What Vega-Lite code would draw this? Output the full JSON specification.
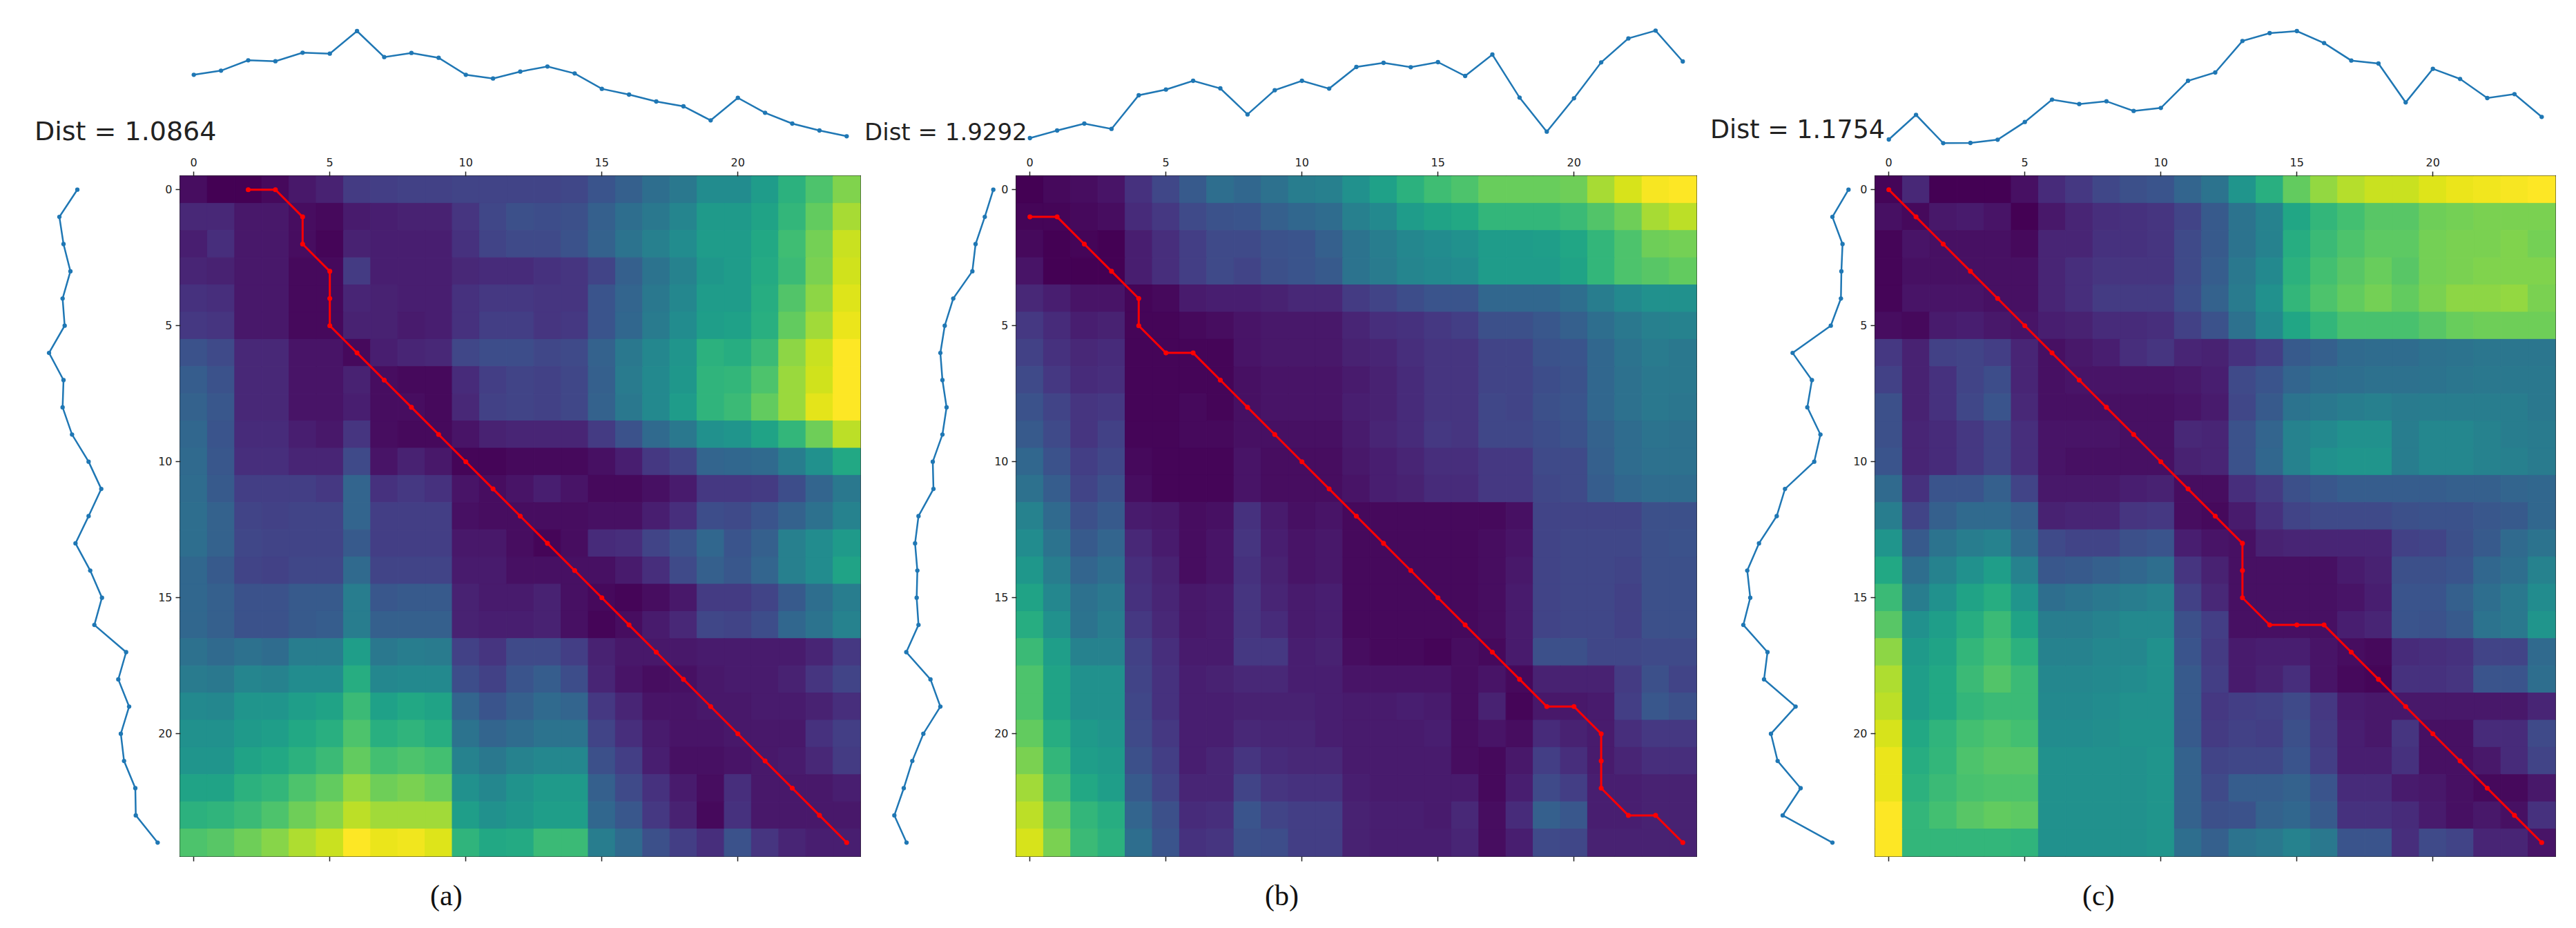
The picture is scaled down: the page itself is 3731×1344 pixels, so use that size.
{"$schema":"https://vega.github.io/schema/vega-lite/v6.json","padding":{"left":41,"top":0,"right":0,"bottom":0},"background":"white","spacing":4,"config":{"view":{"stroke":null},"axis":{"grid":false,"title":null,"labelFont":"DejaVu Sans","labelFontSize":16,"labelColor":"#222","tickColor":"#222","tickSize":7,"tickWidth":1.5,"domain":false,"labelAngle":0,"labelPadding":5}},
"datasets":{
"sa":[{"i":0,"v":305},{"i":1,"v":323},{"i":2,"v":368},{"i":3,"v":364},{"i":4,"v":401},{"i":5,"v":397},{"i":6,"v":495},{"i":7,"v":382},{"i":8,"v":400},{"i":9,"v":379},{"i":10,"v":305},{"i":11,"v":289},{"i":12,"v":319},{"i":13,"v":341},{"i":14,"v":311},{"i":15,"v":244},{"i":16,"v":219},{"i":17,"v":189},{"i":18,"v":168},{"i":19,"v":107},{"i":20,"v":205},{"i":21,"v":140},{"i":22,"v":93},{"i":23,"v":63},{"i":24,"v":38}],
"sb":[{"i":0,"v":30},{"i":1,"v":63},{"i":2,"v":93},{"i":3,"v":70},{"i":4,"v":216},{"i":5,"v":241},{"i":6,"v":279},{"i":7,"v":246},{"i":8,"v":133},{"i":9,"v":238},{"i":10,"v":279},{"i":11,"v":245},{"i":12,"v":339},{"i":13,"v":357},{"i":14,"v":338},{"i":15,"v":360},{"i":16,"v":300},{"i":17,"v":393},{"i":18,"v":206},{"i":19,"v":58},{"i":20,"v":203},{"i":21,"v":359},{"i":22,"v":463},{"i":23,"v":497},{"i":24,"v":363}],
"sc":[{"i":0,"v":24},{"i":1,"v":131},{"i":2,"v":8},{"i":3,"v":9},{"i":4,"v":23},{"i":5,"v":100},{"i":6,"v":197},{"i":7,"v":178},{"i":8,"v":190},{"i":9,"v":148},{"i":10,"v":161},{"i":11,"v":279},{"i":12,"v":315},{"i":13,"v":452},{"i":14,"v":486},{"i":15,"v":495},{"i":16,"v":443},{"i":17,"v":367},{"i":18,"v":354},{"i":19,"v":185},{"i":20,"v":331},{"i":21,"v":287},{"i":22,"v":204},{"i":23,"v":221},{"i":24,"v":122}],
"la":[{"i":0,"v":213},{"i":1,"v":135},{"i":2,"v":153},{"i":3,"v":183},{"i":4,"v":149},{"i":5,"v":158},{"i":6,"v":90},{"i":7,"v":153},{"i":8,"v":149},{"i":9,"v":190},{"i":10,"v":262},{"i":11,"v":317},{"i":12,"v":262},{"i":13,"v":205},{"i":14,"v":269},{"i":15,"v":320},{"i":16,"v":287},{"i":17,"v":425},{"i":18,"v":391},{"i":19,"v":438},{"i":20,"v":402},{"i":21,"v":416},{"i":22,"v":465},{"i":23,"v":467},{"i":24,"v":562}],
"lb":[{"i":0,"v":470},{"i":1,"v":433},{"i":2,"v":393},{"i":3,"v":379},{"i":4,"v":296},{"i":5,"v":259},{"i":6,"v":240},{"i":7,"v":249},{"i":8,"v":267},{"i":9,"v":249},{"i":10,"v":207},{"i":11,"v":210},{"i":12,"v":145},{"i":13,"v":130},{"i":14,"v":140},{"i":15,"v":137},{"i":16,"v":145},{"i":17,"v":92},{"i":18,"v":197},{"i":19,"v":240},{"i":20,"v":166},{"i":21,"v":118},{"i":22,"v":81},{"i":23,"v":40},{"i":24,"v":93}],
"lc":[{"i":0,"v":580},{"i":1,"v":510},{"i":2,"v":554},{"i":3,"v":549},{"i":4,"v":547},{"i":5,"v":503},{"i":6,"v":337},{"i":7,"v":421},{"i":8,"v":401},{"i":9,"v":458},{"i":10,"v":431},{"i":11,"v":304},{"i":12,"v":268},{"i":13,"v":191},{"i":14,"v":140},{"i":15,"v":153},{"i":16,"v":123},{"i":17,"v":228},{"i":18,"v":213},{"i":19,"v":350},{"i":20,"v":243},{"i":21,"v":272},{"i":22,"v":372},{"i":23,"v":294},{"i":24,"v":510}],
"pa":[{"k":0,"x":2,"y":0},{"k":1,"x":3,"y":0},{"k":2,"x":4,"y":1},{"k":3,"x":4,"y":2},{"k":4,"x":5,"y":3},{"k":5,"x":5,"y":4},{"k":6,"x":5,"y":5},{"k":7,"x":6,"y":6},{"k":8,"x":7,"y":7},{"k":9,"x":8,"y":8},{"k":10,"x":9,"y":9},{"k":11,"x":10,"y":10},{"k":12,"x":11,"y":11},{"k":13,"x":12,"y":12},{"k":14,"x":13,"y":13},{"k":15,"x":14,"y":14},{"k":16,"x":15,"y":15},{"k":17,"x":16,"y":16},{"k":18,"x":17,"y":17},{"k":19,"x":18,"y":18},{"k":20,"x":19,"y":19},{"k":21,"x":20,"y":20},{"k":22,"x":21,"y":21},{"k":23,"x":22,"y":22},{"k":24,"x":23,"y":23},{"k":25,"x":24,"y":24}],
"pb":[{"k":0,"x":0,"y":1},{"k":1,"x":1,"y":1},{"k":2,"x":2,"y":2},{"k":3,"x":3,"y":3},{"k":4,"x":4,"y":4},{"k":5,"x":4,"y":5},{"k":6,"x":5,"y":6},{"k":7,"x":6,"y":6},{"k":8,"x":7,"y":7},{"k":9,"x":8,"y":8},{"k":10,"x":9,"y":9},{"k":11,"x":10,"y":10},{"k":12,"x":11,"y":11},{"k":13,"x":12,"y":12},{"k":14,"x":13,"y":13},{"k":15,"x":14,"y":14},{"k":16,"x":15,"y":15},{"k":17,"x":16,"y":16},{"k":18,"x":17,"y":17},{"k":19,"x":18,"y":18},{"k":20,"x":19,"y":19},{"k":21,"x":20,"y":19},{"k":22,"x":21,"y":20},{"k":23,"x":21,"y":21},{"k":24,"x":21,"y":22},{"k":25,"x":22,"y":23},{"k":26,"x":23,"y":23},{"k":27,"x":24,"y":24}],
"pc":[{"k":0,"x":0,"y":0},{"k":1,"x":1,"y":1},{"k":2,"x":2,"y":2},{"k":3,"x":3,"y":3},{"k":4,"x":4,"y":4},{"k":5,"x":5,"y":5},{"k":6,"x":6,"y":6},{"k":7,"x":7,"y":7},{"k":8,"x":8,"y":8},{"k":9,"x":9,"y":9},{"k":10,"x":10,"y":10},{"k":11,"x":11,"y":11},{"k":12,"x":12,"y":12},{"k":13,"x":13,"y":13},{"k":14,"x":13,"y":14},{"k":15,"x":13,"y":15},{"k":16,"x":14,"y":16},{"k":17,"x":15,"y":16},{"k":18,"x":16,"y":16},{"k":19,"x":17,"y":17},{"k":20,"x":18,"y":18},{"k":21,"x":19,"y":19},{"k":22,"x":20,"y":20},{"k":23,"x":21,"y":21},{"k":24,"x":22,"y":22},{"k":25,"x":23,"y":23},{"k":26,"x":24,"y":24}],
"ca":[
{"x":0,"y":0,"v":3},{"x":1,"y":0,"v":0},{"x":2,"y":0,"v":0},{"x":3,"y":0,"v":2},{"x":4,"y":0,"v":6},{"x":5,"y":0,"v":9},{"x":6,"y":0,"v":17},{"x":7,"y":0,"v":18},{"x":8,"y":0,"v":19},{"x":9,"y":0,"v":19},{"x":10,"y":0,"v":20},{"x":11,"y":0,"v":20},{"x":12,"y":0,"v":20},{"x":13,"y":0,"v":20},{"x":14,"y":0,"v":21},{"x":15,"y":0,"v":26},{"x":16,"y":0,"v":30},{"x":17,"y":0,"v":36},{"x":18,"y":0,"v":40},{"x":19,"y":0,"v":48},{"x":20,"y":0,"v":48},{"x":21,"y":0,"v":55},{"x":22,"y":0,"v":64},{"x":23,"y":0,"v":72},{"x":24,"y":0,"v":81},
{"x":0,"y":1,"v":11},{"x":1,"y":1,"v":11},{"x":2,"y":1,"v":6},{"x":3,"y":1,"v":6},{"x":4,"y":1,"v":3},{"x":5,"y":1,"v":2},{"x":6,"y":1,"v":7},{"x":7,"y":1,"v":8},{"x":8,"y":1,"v":9},{"x":9,"y":1,"v":9},{"x":10,"y":1,"v":15},{"x":11,"y":1,"v":21},{"x":12,"y":1,"v":24},{"x":13,"y":1,"v":23},{"x":14,"y":1,"v":24},{"x":15,"y":1,"v":30},{"x":16,"y":1,"v":36},{"x":17,"y":1,"v":40},{"x":18,"y":1,"v":45},{"x":19,"y":1,"v":54},{"x":20,"y":1,"v":54},{"x":21,"y":1,"v":58},{"x":22,"y":1,"v":66},{"x":23,"y":1,"v":76},{"x":24,"y":1,"v":87},
{"x":0,"y":2,"v":8},{"x":1,"y":2,"v":13},{"x":2,"y":2,"v":6},{"x":3,"y":2,"v":6},{"x":4,"y":2,"v":3},{"x":5,"y":2,"v":1},{"x":6,"y":2,"v":9},{"x":7,"y":2,"v":8},{"x":8,"y":2,"v":8},{"x":9,"y":2,"v":8},{"x":10,"y":2,"v":14},{"x":11,"y":2,"v":20},{"x":12,"y":2,"v":22},{"x":13,"y":2,"v":22},{"x":14,"y":2,"v":25},{"x":15,"y":2,"v":31},{"x":16,"y":2,"v":38},{"x":17,"y":2,"v":43},{"x":18,"y":2,"v":48},{"x":19,"y":2,"v":55},{"x":20,"y":2,"v":55},{"x":21,"y":2,"v":60},{"x":22,"y":2,"v":69},{"x":23,"y":2,"v":79},{"x":24,"y":2,"v":92},
{"x":0,"y":3,"v":10},{"x":1,"y":3,"v":9},{"x":2,"y":3,"v":6},{"x":3,"y":3,"v":6},{"x":4,"y":3,"v":2},{"x":5,"y":3,"v":2},{"x":6,"y":3,"v":17},{"x":7,"y":3,"v":8},{"x":8,"y":3,"v":8},{"x":9,"y":3,"v":8},{"x":10,"y":3,"v":11},{"x":11,"y":3,"v":12},{"x":12,"y":3,"v":12},{"x":13,"y":3,"v":14},{"x":14,"y":3,"v":15},{"x":15,"y":3,"v":20},{"x":16,"y":3,"v":30},{"x":17,"y":3,"v":38},{"x":18,"y":3,"v":44},{"x":19,"y":3,"v":53},{"x":20,"y":3,"v":55},{"x":21,"y":3,"v":61},{"x":22,"y":3,"v":68},{"x":23,"y":3,"v":80},{"x":24,"y":3,"v":93},
{"x":0,"y":4,"v":14},{"x":1,"y":4,"v":13},{"x":2,"y":4,"v":6},{"x":3,"y":4,"v":6},{"x":4,"y":4,"v":2},{"x":5,"y":4,"v":2},{"x":6,"y":4,"v":10},{"x":7,"y":4,"v":9},{"x":8,"y":4,"v":8},{"x":9,"y":4,"v":8},{"x":10,"y":4,"v":14},{"x":11,"y":4,"v":16},{"x":12,"y":4,"v":16},{"x":13,"y":4,"v":15},{"x":14,"y":4,"v":15},{"x":15,"y":4,"v":26},{"x":16,"y":4,"v":32},{"x":17,"y":4,"v":40},{"x":18,"y":4,"v":46},{"x":19,"y":4,"v":55},{"x":20,"y":4,"v":55},{"x":21,"y":4,"v":62},{"x":22,"y":4,"v":73},{"x":23,"y":4,"v":83},{"x":24,"y":4,"v":95},
{"x":0,"y":5,"v":16},{"x":1,"y":5,"v":15},{"x":2,"y":5,"v":6},{"x":3,"y":5,"v":6},{"x":4,"y":5,"v":2},{"x":5,"y":5,"v":2},{"x":6,"y":5,"v":9},{"x":7,"y":5,"v":9},{"x":8,"y":5,"v":7},{"x":9,"y":5,"v":8},{"x":10,"y":5,"v":14},{"x":11,"y":5,"v":18},{"x":12,"y":5,"v":18},{"x":13,"y":5,"v":15},{"x":14,"y":5,"v":16},{"x":15,"y":5,"v":26},{"x":16,"y":5,"v":33},{"x":17,"y":5,"v":41},{"x":18,"y":5,"v":48},{"x":19,"y":5,"v":56},{"x":20,"y":5,"v":57},{"x":21,"y":5,"v":63},{"x":22,"y":5,"v":76},{"x":23,"y":5,"v":86},{"x":24,"y":5,"v":97},
{"x":0,"y":6,"v":25},{"x":1,"y":6,"v":22},{"x":2,"y":6,"v":11},{"x":3,"y":6,"v":11},{"x":4,"y":6,"v":5},{"x":5,"y":6,"v":5},{"x":6,"y":6,"v":2},{"x":7,"y":6,"v":8},{"x":8,"y":6,"v":10},{"x":9,"y":6,"v":11},{"x":10,"y":6,"v":21},{"x":11,"y":6,"v":23},{"x":12,"y":6,"v":23},{"x":13,"y":6,"v":21},{"x":14,"y":6,"v":22},{"x":15,"y":6,"v":31},{"x":16,"y":6,"v":40},{"x":17,"y":6,"v":46},{"x":18,"y":6,"v":52},{"x":19,"y":6,"v":64},{"x":20,"y":6,"v":62},{"x":21,"y":6,"v":68},{"x":22,"y":6,"v":83},{"x":23,"y":6,"v":92},{"x":24,"y":6,"v":100},
{"x":0,"y":7,"v":29},{"x":1,"y":7,"v":25},{"x":2,"y":7,"v":11},{"x":3,"y":7,"v":11},{"x":4,"y":7,"v":5},{"x":5,"y":7,"v":5},{"x":6,"y":7,"v":9},{"x":7,"y":7,"v":3},{"x":8,"y":7,"v":2},{"x":9,"y":7,"v":2},{"x":10,"y":7,"v":12},{"x":11,"y":7,"v":18},{"x":12,"y":7,"v":20},{"x":13,"y":7,"v":19},{"x":14,"y":7,"v":21},{"x":15,"y":7,"v":30},{"x":16,"y":7,"v":41},{"x":17,"y":7,"v":47},{"x":18,"y":7,"v":53},{"x":19,"y":7,"v":65},{"x":20,"y":7,"v":66},{"x":21,"y":7,"v":72},{"x":22,"y":7,"v":85},{"x":23,"y":7,"v":93},{"x":24,"y":7,"v":100},
{"x":0,"y":8,"v":31},{"x":1,"y":8,"v":27},{"x":2,"y":8,"v":11},{"x":3,"y":8,"v":11},{"x":4,"y":8,"v":5},{"x":5,"y":8,"v":5},{"x":6,"y":8,"v":8},{"x":7,"y":8,"v":3},{"x":8,"y":8,"v":3},{"x":9,"y":8,"v":2},{"x":10,"y":8,"v":11},{"x":11,"y":8,"v":19},{"x":12,"y":8,"v":20},{"x":13,"y":8,"v":19},{"x":14,"y":8,"v":21},{"x":15,"y":8,"v":31},{"x":16,"y":8,"v":40},{"x":17,"y":8,"v":47},{"x":18,"y":8,"v":55},{"x":19,"y":8,"v":65},{"x":20,"y":8,"v":68},{"x":21,"y":8,"v":76},{"x":22,"y":8,"v":85},{"x":23,"y":8,"v":96},{"x":24,"y":8,"v":100},
{"x":0,"y":9,"v":33},{"x":1,"y":9,"v":26},{"x":2,"y":9,"v":12},{"x":3,"y":9,"v":12},{"x":4,"y":9,"v":8},{"x":5,"y":9,"v":6},{"x":6,"y":9,"v":15},{"x":7,"y":9,"v":3},{"x":8,"y":9,"v":2},{"x":9,"y":9,"v":2},{"x":10,"y":9,"v":5},{"x":11,"y":9,"v":9},{"x":12,"y":9,"v":10},{"x":13,"y":9,"v":10},{"x":14,"y":9,"v":10},{"x":15,"y":9,"v":17},{"x":16,"y":9,"v":25},{"x":17,"y":9,"v":34},{"x":18,"y":9,"v":40},{"x":19,"y":9,"v":50},{"x":20,"y":9,"v":52},{"x":21,"y":9,"v":58},{"x":22,"y":9,"v":66},{"x":23,"y":9,"v":78},{"x":24,"y":9,"v":90},
{"x":0,"y":10,"v":34},{"x":1,"y":10,"v":27},{"x":2,"y":10,"v":13},{"x":3,"y":10,"v":13},{"x":4,"y":10,"v":10},{"x":5,"y":10,"v":10},{"x":6,"y":10,"v":22},{"x":7,"y":10,"v":5},{"x":8,"y":10,"v":9},{"x":9,"y":10,"v":6},{"x":10,"y":10,"v":1},{"x":11,"y":10,"v":1},{"x":12,"y":10,"v":2},{"x":13,"y":10,"v":2},{"x":14,"y":10,"v":2},{"x":15,"y":10,"v":4},{"x":16,"y":10,"v":8},{"x":17,"y":10,"v":16},{"x":18,"y":10,"v":20},{"x":19,"y":10,"v":32},{"x":20,"y":10,"v":33},{"x":21,"y":10,"v":34},{"x":22,"y":10,"v":42},{"x":23,"y":10,"v":50},{"x":24,"y":10,"v":60},
{"x":0,"y":11,"v":35},{"x":1,"y":11,"v":28},{"x":2,"y":11,"v":18},{"x":3,"y":11,"v":18},{"x":4,"y":11,"v":18},{"x":5,"y":11,"v":16},{"x":6,"y":11,"v":32},{"x":7,"y":11,"v":14},{"x":8,"y":11,"v":16},{"x":9,"y":11,"v":14},{"x":10,"y":11,"v":5},{"x":11,"y":11,"v":3},{"x":12,"y":11,"v":5},{"x":13,"y":11,"v":8},{"x":14,"y":11,"v":5},{"x":15,"y":11,"v":2},{"x":16,"y":11,"v":2},{"x":17,"y":11,"v":4},{"x":18,"y":11,"v":7},{"x":19,"y":11,"v":16},{"x":20,"y":11,"v":16},{"x":21,"y":11,"v":17},{"x":22,"y":11,"v":23},{"x":23,"y":11,"v":32},{"x":24,"y":11,"v":40},
{"x":0,"y":12,"v":36},{"x":1,"y":12,"v":31},{"x":2,"y":12,"v":20},{"x":3,"y":12,"v":19},{"x":4,"y":12,"v":20},{"x":5,"y":12,"v":20},{"x":6,"y":12,"v":32},{"x":7,"y":12,"v":18},{"x":8,"y":12,"v":18},{"x":9,"y":12,"v":18},{"x":10,"y":12,"v":4},{"x":11,"y":12,"v":3},{"x":12,"y":12,"v":3},{"x":13,"y":12,"v":3},{"x":14,"y":12,"v":3},{"x":15,"y":12,"v":4},{"x":16,"y":12,"v":4},{"x":17,"y":12,"v":8},{"x":18,"y":12,"v":13},{"x":19,"y":12,"v":23},{"x":20,"y":12,"v":22},{"x":21,"y":12,"v":26},{"x":22,"y":12,"v":31},{"x":23,"y":12,"v":37},{"x":24,"y":12,"v":44},
{"x":0,"y":13,"v":36},{"x":1,"y":13,"v":31},{"x":2,"y":13,"v":21},{"x":3,"y":13,"v":20},{"x":4,"y":13,"v":20},{"x":5,"y":13,"v":20},{"x":6,"y":13,"v":28},{"x":7,"y":13,"v":18},{"x":8,"y":13,"v":18},{"x":9,"y":13,"v":18},{"x":10,"y":13,"v":6},{"x":11,"y":13,"v":6},{"x":12,"y":13,"v":3},{"x":13,"y":13,"v":1},{"x":14,"y":13,"v":3},{"x":15,"y":13,"v":12},{"x":16,"y":13,"v":13},{"x":17,"y":13,"v":20},{"x":18,"y":13,"v":25},{"x":19,"y":13,"v":33},{"x":20,"y":13,"v":26},{"x":21,"y":13,"v":30},{"x":22,"y":13,"v":43},{"x":23,"y":13,"v":48},{"x":24,"y":13,"v":54},
{"x":0,"y":14,"v":33},{"x":1,"y":14,"v":28},{"x":2,"y":14,"v":20},{"x":3,"y":14,"v":19},{"x":4,"y":14,"v":21},{"x":5,"y":14,"v":21},{"x":6,"y":14,"v":34},{"x":7,"y":14,"v":20},{"x":8,"y":14,"v":20},{"x":9,"y":14,"v":20},{"x":10,"y":14,"v":7},{"x":11,"y":14,"v":7},{"x":12,"y":14,"v":4},{"x":13,"y":14,"v":4},{"x":14,"y":14,"v":4},{"x":15,"y":14,"v":4},{"x":16,"y":14,"v":7},{"x":17,"y":14,"v":13},{"x":18,"y":14,"v":22},{"x":19,"y":14,"v":30},{"x":20,"y":14,"v":27},{"x":21,"y":14,"v":32},{"x":22,"y":14,"v":43},{"x":23,"y":14,"v":48},{"x":24,"y":14,"v":58},
{"x":0,"y":15,"v":33},{"x":1,"y":15,"v":30},{"x":2,"y":15,"v":25},{"x":3,"y":15,"v":25},{"x":4,"y":15,"v":28},{"x":5,"y":15,"v":28},{"x":6,"y":15,"v":42},{"x":7,"y":15,"v":27},{"x":8,"y":15,"v":28},{"x":9,"y":15,"v":28},{"x":10,"y":15,"v":9},{"x":11,"y":15,"v":7},{"x":12,"y":15,"v":7},{"x":13,"y":15,"v":9},{"x":14,"y":15,"v":4},{"x":15,"y":15,"v":2},{"x":16,"y":15,"v":1},{"x":17,"y":15,"v":3},{"x":18,"y":15,"v":6},{"x":19,"y":15,"v":17},{"x":20,"y":15,"v":17},{"x":21,"y":15,"v":20},{"x":22,"y":15,"v":28},{"x":23,"y":15,"v":36},{"x":24,"y":15,"v":42},
{"x":0,"y":16,"v":33},{"x":1,"y":16,"v":30},{"x":2,"y":16,"v":25},{"x":3,"y":16,"v":25},{"x":4,"y":16,"v":28},{"x":5,"y":16,"v":29},{"x":6,"y":16,"v":42},{"x":7,"y":16,"v":30},{"x":8,"y":16,"v":30},{"x":9,"y":16,"v":30},{"x":10,"y":16,"v":9},{"x":11,"y":16,"v":8},{"x":12,"y":16,"v":8},{"x":13,"y":16,"v":9},{"x":14,"y":16,"v":4},{"x":15,"y":16,"v":1},{"x":16,"y":16,"v":3},{"x":17,"y":16,"v":7},{"x":18,"y":16,"v":11},{"x":19,"y":16,"v":21},{"x":20,"y":16,"v":20},{"x":21,"y":16,"v":23},{"x":22,"y":16,"v":33},{"x":23,"y":16,"v":38},{"x":24,"y":16,"v":44},
{"x":0,"y":17,"v":37},{"x":1,"y":17,"v":34},{"x":2,"y":17,"v":37},{"x":3,"y":17,"v":35},{"x":4,"y":17,"v":42},{"x":5,"y":17,"v":42},{"x":6,"y":17,"v":56},{"x":7,"y":17,"v":40},{"x":8,"y":17,"v":42},{"x":9,"y":17,"v":41},{"x":10,"y":17,"v":19},{"x":11,"y":17,"v":15},{"x":12,"y":17,"v":22},{"x":13,"y":17,"v":22},{"x":14,"y":17,"v":18},{"x":15,"y":17,"v":9},{"x":16,"y":17,"v":6},{"x":17,"y":17,"v":6},{"x":18,"y":17,"v":6},{"x":19,"y":17,"v":7},{"x":20,"y":17,"v":7},{"x":21,"y":17,"v":7},{"x":22,"y":17,"v":7},{"x":23,"y":17,"v":10},{"x":24,"y":17,"v":16},
{"x":0,"y":18,"v":41},{"x":1,"y":18,"v":40},{"x":2,"y":18,"v":45},{"x":3,"y":18,"v":44},{"x":4,"y":18,"v":48},{"x":5,"y":18,"v":48},{"x":6,"y":18,"v":62},{"x":7,"y":18,"v":46},{"x":8,"y":18,"v":47},{"x":9,"y":18,"v":47},{"x":10,"y":18,"v":23},{"x":11,"y":18,"v":19},{"x":12,"y":18,"v":26},{"x":13,"y":18,"v":29},{"x":14,"y":18,"v":23},{"x":15,"y":18,"v":10},{"x":16,"y":18,"v":5},{"x":17,"y":18,"v":3},{"x":18,"y":18,"v":4},{"x":19,"y":18,"v":6},{"x":20,"y":18,"v":7},{"x":21,"y":18,"v":7},{"x":22,"y":18,"v":9},{"x":23,"y":18,"v":15},{"x":24,"y":18,"v":20},
{"x":0,"y":19,"v":47},{"x":1,"y":19,"v":46},{"x":2,"y":19,"v":52},{"x":3,"y":19,"v":52},{"x":4,"y":19,"v":56},{"x":5,"y":19,"v":58},{"x":6,"y":19,"v":68},{"x":7,"y":19,"v":57},{"x":8,"y":19,"v":60},{"x":9,"y":19,"v":58},{"x":10,"y":19,"v":32},{"x":11,"y":19,"v":26},{"x":12,"y":19,"v":30},{"x":13,"y":19,"v":34},{"x":14,"y":19,"v":32},{"x":15,"y":19,"v":16},{"x":16,"y":19,"v":10},{"x":17,"y":19,"v":5},{"x":18,"y":19,"v":5},{"x":19,"y":19,"v":6},{"x":20,"y":19,"v":6},{"x":21,"y":19,"v":7},{"x":22,"y":19,"v":7},{"x":23,"y":19,"v":9},{"x":24,"y":19,"v":13},
{"x":0,"y":20,"v":50},{"x":1,"y":20,"v":50},{"x":2,"y":20,"v":54},{"x":3,"y":20,"v":56},{"x":4,"y":20,"v":60},{"x":5,"y":20,"v":63},{"x":6,"y":20,"v":72},{"x":7,"y":20,"v":63},{"x":8,"y":20,"v":65},{"x":9,"y":20,"v":62},{"x":10,"y":20,"v":38},{"x":11,"y":20,"v":32},{"x":12,"y":20,"v":35},{"x":13,"y":20,"v":38},{"x":14,"y":20,"v":38},{"x":15,"y":20,"v":20},{"x":16,"y":20,"v":13},{"x":17,"y":20,"v":7},{"x":18,"y":20,"v":5},{"x":19,"y":20,"v":5},{"x":20,"y":20,"v":6},{"x":21,"y":20,"v":6},{"x":22,"y":20,"v":6},{"x":23,"y":20,"v":14},{"x":24,"y":20,"v":18},
{"x":0,"y":21,"v":52},{"x":1,"y":21,"v":52},{"x":2,"y":21,"v":58},{"x":3,"y":21,"v":60},{"x":4,"y":21,"v":64},{"x":5,"y":21,"v":68},{"x":6,"y":21,"v":76},{"x":7,"y":21,"v":70},{"x":8,"y":21,"v":72},{"x":9,"y":21,"v":70},{"x":10,"y":21,"v":44},{"x":11,"y":21,"v":40},{"x":12,"y":21,"v":44},{"x":13,"y":21,"v":46},{"x":14,"y":21,"v":46},{"x":15,"y":21,"v":24},{"x":16,"y":21,"v":18},{"x":17,"y":21,"v":8},{"x":18,"y":21,"v":4},{"x":19,"y":21,"v":4},{"x":20,"y":21,"v":5},{"x":21,"y":21,"v":6},{"x":22,"y":21,"v":7},{"x":23,"y":21,"v":11},{"x":24,"y":21,"v":17},
{"x":0,"y":22,"v":58},{"x":1,"y":22,"v":58},{"x":2,"y":22,"v":64},{"x":3,"y":22,"v":66},{"x":4,"y":22,"v":72},{"x":5,"y":22,"v":76},{"x":6,"y":22,"v":84},{"x":7,"y":22,"v":78},{"x":8,"y":22,"v":80},{"x":9,"y":22,"v":77},{"x":10,"y":22,"v":50},{"x":11,"y":22,"v":46},{"x":12,"y":22,"v":51},{"x":13,"y":22,"v":54},{"x":14,"y":22,"v":54},{"x":15,"y":22,"v":30},{"x":16,"y":22,"v":22},{"x":17,"y":22,"v":14},{"x":18,"y":22,"v":7},{"x":19,"y":22,"v":3},{"x":20,"y":22,"v":13},{"x":21,"y":22,"v":6},{"x":22,"y":22,"v":6},{"x":23,"y":22,"v":6},{"x":24,"y":22,"v":8},
{"x":0,"y":23,"v":64},{"x":1,"y":23,"v":65},{"x":2,"y":23,"v":68},{"x":3,"y":23,"v":72},{"x":4,"y":23,"v":78},{"x":5,"y":23,"v":82},{"x":6,"y":23,"v":90},{"x":7,"y":23,"v":86},{"x":8,"y":23,"v":86},{"x":9,"y":23,"v":86},{"x":10,"y":23,"v":56},{"x":11,"y":23,"v":50},{"x":12,"y":23,"v":53},{"x":13,"y":23,"v":56},{"x":14,"y":23,"v":56},{"x":15,"y":23,"v":33},{"x":16,"y":23,"v":27},{"x":17,"y":23,"v":16},{"x":18,"y":23,"v":9},{"x":19,"y":23,"v":2},{"x":20,"y":23,"v":14},{"x":21,"y":23,"v":6},{"x":22,"y":23,"v":6},{"x":23,"y":23,"v":6},{"x":24,"y":23,"v":6},
{"x":0,"y":24,"v":72},{"x":1,"y":24,"v":74},{"x":2,"y":24,"v":78},{"x":3,"y":24,"v":82},{"x":4,"y":24,"v":88},{"x":5,"y":24,"v":92},{"x":6,"y":24,"v":100},{"x":7,"y":24,"v":97},{"x":8,"y":24,"v":98},{"x":9,"y":24,"v":95},{"x":10,"y":24,"v":65},{"x":11,"y":24,"v":60},{"x":12,"y":24,"v":61},{"x":13,"y":24,"v":68},{"x":14,"y":24,"v":68},{"x":15,"y":24,"v":42},{"x":16,"y":24,"v":34},{"x":17,"y":24,"v":24},{"x":18,"y":24,"v":18},{"x":19,"y":24,"v":13},{"x":20,"y":24,"v":25},{"x":21,"y":24,"v":15},{"x":22,"y":24,"v":10},{"x":23,"y":24,"v":8},{"x":24,"y":24,"v":8}],
"cb":[
{"x":0,"y":0,"v":0},{"x":1,"y":0,"v":2},{"x":2,"y":0,"v":3},{"x":3,"y":0,"v":5},{"x":4,"y":0,"v":14},{"x":5,"y":0,"v":21},{"x":6,"y":0,"v":28},{"x":7,"y":0,"v":36},{"x":8,"y":0,"v":33},{"x":9,"y":0,"v":37},{"x":10,"y":0,"v":42},{"x":11,"y":0,"v":43},{"x":12,"y":0,"v":50},{"x":13,"y":0,"v":57},{"x":14,"y":0,"v":64},{"x":15,"y":0,"v":69},{"x":16,"y":0,"v":72},{"x":17,"y":0,"v":77},{"x":18,"y":0,"v":77},{"x":19,"y":0,"v":77},{"x":20,"y":0,"v":78},{"x":21,"y":0,"v":87},{"x":22,"y":0,"v":94},{"x":23,"y":0,"v":99},{"x":24,"y":0,"v":100},
{"x":0,"y":1,"v":1},{"x":1,"y":1,"v":1},{"x":2,"y":1,"v":2},{"x":3,"y":1,"v":3},{"x":4,"y":1,"v":12},{"x":5,"y":1,"v":16},{"x":6,"y":1,"v":22},{"x":7,"y":1,"v":25},{"x":8,"y":1,"v":26},{"x":9,"y":1,"v":30},{"x":10,"y":1,"v":33},{"x":11,"y":1,"v":35},{"x":12,"y":1,"v":43},{"x":13,"y":1,"v":47},{"x":14,"y":1,"v":55},{"x":15,"y":1,"v":58},{"x":16,"y":1,"v":60},{"x":17,"y":1,"v":66},{"x":18,"y":1,"v":66},{"x":19,"y":1,"v":66},{"x":20,"y":1,"v":68},{"x":21,"y":1,"v":73},{"x":22,"y":1,"v":78},{"x":23,"y":1,"v":87},{"x":24,"y":1,"v":90},
{"x":0,"y":2,"v":2},{"x":1,"y":2,"v":0},{"x":2,"y":2,"v":1},{"x":3,"y":2,"v":0},{"x":4,"y":2,"v":8},{"x":5,"y":2,"v":13},{"x":6,"y":2,"v":18},{"x":7,"y":2,"v":22},{"x":8,"y":2,"v":22},{"x":9,"y":2,"v":25},{"x":10,"y":2,"v":26},{"x":11,"y":2,"v":30},{"x":12,"y":2,"v":38},{"x":13,"y":2,"v":42},{"x":14,"y":2,"v":46},{"x":15,"y":2,"v":48},{"x":16,"y":2,"v":50},{"x":17,"y":2,"v":55},{"x":18,"y":2,"v":55},{"x":19,"y":2,"v":56},{"x":20,"y":2,"v":59},{"x":21,"y":2,"v":66},{"x":22,"y":2,"v":72},{"x":23,"y":2,"v":78},{"x":24,"y":2,"v":79},
{"x":0,"y":3,"v":5},{"x":1,"y":3,"v":0},{"x":2,"y":3,"v":0},{"x":3,"y":3,"v":0},{"x":4,"y":3,"v":8},{"x":5,"y":3,"v":13},{"x":6,"y":3,"v":18},{"x":7,"y":3,"v":22},{"x":8,"y":3,"v":20},{"x":9,"y":3,"v":24},{"x":10,"y":3,"v":26},{"x":11,"y":3,"v":28},{"x":12,"y":3,"v":38},{"x":13,"y":3,"v":41},{"x":14,"y":3,"v":45},{"x":15,"y":3,"v":47},{"x":16,"y":3,"v":48},{"x":17,"y":3,"v":55},{"x":18,"y":3,"v":55},{"x":19,"y":3,"v":55},{"x":20,"y":3,"v":58},{"x":21,"y":3,"v":66},{"x":22,"y":3,"v":72},{"x":23,"y":3,"v":74},{"x":24,"y":3,"v":76},
{"x":0,"y":4,"v":11},{"x":1,"y":4,"v":8},{"x":2,"y":4,"v":5},{"x":3,"y":4,"v":5},{"x":4,"y":4,"v":1},{"x":5,"y":4,"v":2},{"x":6,"y":4,"v":7},{"x":7,"y":4,"v":8},{"x":8,"y":4,"v":8},{"x":9,"y":4,"v":9},{"x":10,"y":4,"v":11},{"x":11,"y":4,"v":11},{"x":12,"y":4,"v":17},{"x":13,"y":4,"v":20},{"x":14,"y":4,"v":23},{"x":15,"y":4,"v":26},{"x":16,"y":4,"v":26},{"x":17,"y":4,"v":33},{"x":18,"y":4,"v":33},{"x":19,"y":4,"v":33},{"x":20,"y":4,"v":36},{"x":21,"y":4,"v":42},{"x":22,"y":4,"v":47},{"x":23,"y":4,"v":50},{"x":24,"y":4,"v":50},
{"x":0,"y":5,"v":16},{"x":1,"y":5,"v":12},{"x":2,"y":5,"v":8},{"x":3,"y":5,"v":9},{"x":4,"y":5,"v":1},{"x":5,"y":5,"v":1},{"x":6,"y":5,"v":2},{"x":7,"y":5,"v":3},{"x":8,"y":5,"v":5},{"x":9,"y":5,"v":6},{"x":10,"y":5,"v":6},{"x":11,"y":5,"v":6},{"x":12,"y":5,"v":10},{"x":13,"y":5,"v":13},{"x":14,"y":5,"v":14},{"x":15,"y":5,"v":16},{"x":16,"y":5,"v":18},{"x":17,"y":5,"v":24},{"x":18,"y":5,"v":24},{"x":19,"y":5,"v":27},{"x":20,"y":5,"v":30},{"x":21,"y":5,"v":36},{"x":22,"y":5,"v":40},{"x":23,"y":5,"v":43},{"x":24,"y":5,"v":44},
{"x":0,"y":6,"v":19},{"x":1,"y":6,"v":14},{"x":2,"y":6,"v":11},{"x":3,"y":6,"v":12},{"x":4,"y":6,"v":1},{"x":5,"y":6,"v":1},{"x":6,"y":6,"v":1},{"x":7,"y":6,"v":1},{"x":8,"y":6,"v":5},{"x":9,"y":6,"v":6},{"x":10,"y":6,"v":6},{"x":11,"y":6,"v":6},{"x":12,"y":6,"v":9},{"x":13,"y":6,"v":10},{"x":14,"y":6,"v":13},{"x":15,"y":6,"v":15},{"x":16,"y":6,"v":15},{"x":17,"y":6,"v":20},{"x":18,"y":6,"v":20},{"x":19,"y":6,"v":25},{"x":20,"y":6,"v":26},{"x":21,"y":6,"v":33},{"x":22,"y":6,"v":38},{"x":23,"y":6,"v":41},{"x":24,"y":6,"v":40},
{"x":0,"y":7,"v":22},{"x":1,"y":7,"v":16},{"x":2,"y":7,"v":12},{"x":3,"y":7,"v":13},{"x":4,"y":7,"v":1},{"x":5,"y":7,"v":1},{"x":6,"y":7,"v":1},{"x":7,"y":7,"v":1},{"x":8,"y":7,"v":4},{"x":9,"y":7,"v":5},{"x":10,"y":7,"v":5},{"x":11,"y":7,"v":5},{"x":12,"y":7,"v":7},{"x":13,"y":7,"v":9},{"x":14,"y":7,"v":12},{"x":15,"y":7,"v":15},{"x":16,"y":7,"v":15},{"x":17,"y":7,"v":20},{"x":18,"y":7,"v":20},{"x":19,"y":7,"v":23},{"x":20,"y":7,"v":25},{"x":21,"y":7,"v":33},{"x":22,"y":7,"v":37},{"x":23,"y":7,"v":40},{"x":24,"y":7,"v":40},
{"x":0,"y":8,"v":25},{"x":1,"y":8,"v":20},{"x":2,"y":8,"v":15},{"x":3,"y":8,"v":16},{"x":4,"y":8,"v":1},{"x":5,"y":8,"v":1},{"x":6,"y":8,"v":2},{"x":7,"y":8,"v":1},{"x":8,"y":8,"v":4},{"x":9,"y":8,"v":5},{"x":10,"y":8,"v":5},{"x":11,"y":8,"v":5},{"x":12,"y":8,"v":8},{"x":13,"y":8,"v":9},{"x":14,"y":8,"v":12},{"x":15,"y":8,"v":15},{"x":16,"y":8,"v":15},{"x":17,"y":8,"v":21},{"x":18,"y":8,"v":20},{"x":19,"y":8,"v":24},{"x":20,"y":8,"v":26},{"x":21,"y":8,"v":33},{"x":22,"y":8,"v":37},{"x":23,"y":8,"v":40},{"x":24,"y":8,"v":39},
{"x":0,"y":9,"v":28},{"x":1,"y":9,"v":22},{"x":2,"y":9,"v":15},{"x":3,"y":9,"v":19},{"x":4,"y":9,"v":1},{"x":5,"y":9,"v":1},{"x":6,"y":9,"v":2},{"x":7,"y":9,"v":2},{"x":8,"y":9,"v":4},{"x":9,"y":9,"v":4},{"x":10,"y":9,"v":4},{"x":11,"y":9,"v":4},{"x":12,"y":9,"v":7},{"x":13,"y":9,"v":10},{"x":14,"y":9,"v":12},{"x":15,"y":9,"v":16},{"x":16,"y":9,"v":15},{"x":17,"y":9,"v":21},{"x":18,"y":9,"v":21},{"x":19,"y":9,"v":23},{"x":20,"y":9,"v":25},{"x":21,"y":9,"v":31},{"x":22,"y":9,"v":35},{"x":23,"y":9,"v":38},{"x":24,"y":9,"v":37},
{"x":0,"y":10,"v":33},{"x":1,"y":10,"v":25},{"x":2,"y":10,"v":18},{"x":3,"y":10,"v":21},{"x":4,"y":10,"v":2},{"x":5,"y":10,"v":1},{"x":6,"y":10,"v":1},{"x":7,"y":10,"v":1},{"x":8,"y":10,"v":5},{"x":9,"y":10,"v":3},{"x":10,"y":10,"v":3},{"x":11,"y":10,"v":3},{"x":12,"y":10,"v":6},{"x":13,"y":10,"v":8},{"x":14,"y":10,"v":10},{"x":15,"y":10,"v":13},{"x":16,"y":10,"v":13},{"x":17,"y":10,"v":16},{"x":18,"y":10,"v":16},{"x":19,"y":10,"v":22},{"x":20,"y":10,"v":22},{"x":21,"y":10,"v":30},{"x":22,"y":10,"v":35},{"x":23,"y":10,"v":37},{"x":24,"y":10,"v":37},
{"x":0,"y":11,"v":37},{"x":1,"y":11,"v":29},{"x":2,"y":11,"v":20},{"x":3,"y":11,"v":24},{"x":4,"y":11,"v":3},{"x":5,"y":11,"v":1},{"x":6,"y":11,"v":1},{"x":7,"y":11,"v":1},{"x":8,"y":11,"v":5},{"x":9,"y":11,"v":3},{"x":10,"y":11,"v":3},{"x":11,"y":11,"v":3},{"x":12,"y":11,"v":5},{"x":13,"y":11,"v":8},{"x":14,"y":11,"v":9},{"x":15,"y":11,"v":12},{"x":16,"y":11,"v":12},{"x":17,"y":11,"v":16},{"x":18,"y":11,"v":16},{"x":19,"y":11,"v":21},{"x":20,"y":11,"v":22},{"x":21,"y":11,"v":29},{"x":22,"y":11,"v":33},{"x":23,"y":11,"v":35},{"x":24,"y":11,"v":35},
{"x":0,"y":12,"v":44},{"x":1,"y":12,"v":34},{"x":2,"y":12,"v":24},{"x":3,"y":12,"v":28},{"x":4,"y":12,"v":7},{"x":5,"y":12,"v":6},{"x":6,"y":12,"v":3},{"x":7,"y":12,"v":4},{"x":8,"y":12,"v":14},{"x":9,"y":12,"v":7},{"x":10,"y":12,"v":4},{"x":11,"y":12,"v":5},{"x":12,"y":12,"v":2},{"x":13,"y":12,"v":2},{"x":14,"y":12,"v":2},{"x":15,"y":12,"v":2},{"x":16,"y":12,"v":2},{"x":17,"y":12,"v":2},{"x":18,"y":12,"v":4},{"x":19,"y":12,"v":20},{"x":20,"y":12,"v":20},{"x":21,"y":12,"v":20},{"x":22,"y":12,"v":20},{"x":23,"y":12,"v":24},{"x":24,"y":12,"v":24},
{"x":0,"y":13,"v":48},{"x":1,"y":13,"v":38},{"x":2,"y":13,"v":28},{"x":3,"y":13,"v":32},{"x":4,"y":13,"v":11},{"x":5,"y":13,"v":7},{"x":6,"y":13,"v":3},{"x":7,"y":13,"v":5},{"x":8,"y":13,"v":15},{"x":9,"y":13,"v":8},{"x":10,"y":13,"v":5},{"x":11,"y":13,"v":6},{"x":12,"y":13,"v":2},{"x":13,"y":13,"v":2},{"x":14,"y":13,"v":2},{"x":15,"y":13,"v":2},{"x":16,"y":13,"v":2},{"x":17,"y":13,"v":3},{"x":18,"y":13,"v":5},{"x":19,"y":13,"v":20},{"x":20,"y":13,"v":21},{"x":21,"y":13,"v":21},{"x":22,"y":13,"v":21},{"x":23,"y":13,"v":24},{"x":24,"y":13,"v":25},
{"x":0,"y":14,"v":53},{"x":1,"y":14,"v":42},{"x":2,"y":14,"v":32},{"x":3,"y":14,"v":36},{"x":4,"y":14,"v":13},{"x":5,"y":14,"v":9},{"x":6,"y":14,"v":3},{"x":7,"y":14,"v":5},{"x":8,"y":14,"v":14},{"x":9,"y":14,"v":9},{"x":10,"y":14,"v":5},{"x":11,"y":14,"v":6},{"x":12,"y":14,"v":2},{"x":13,"y":14,"v":2},{"x":14,"y":14,"v":2},{"x":15,"y":14,"v":2},{"x":16,"y":14,"v":2},{"x":17,"y":14,"v":3},{"x":18,"y":14,"v":6},{"x":19,"y":14,"v":20},{"x":20,"y":14,"v":21},{"x":21,"y":14,"v":21},{"x":22,"y":14,"v":20},{"x":23,"y":14,"v":24},{"x":24,"y":14,"v":24},
{"x":0,"y":15,"v":58},{"x":1,"y":15,"v":46},{"x":2,"y":15,"v":37},{"x":3,"y":15,"v":40},{"x":4,"y":15,"v":14},{"x":5,"y":15,"v":10},{"x":6,"y":15,"v":6},{"x":7,"y":15,"v":7},{"x":8,"y":15,"v":15},{"x":9,"y":15,"v":10},{"x":10,"y":15,"v":7},{"x":11,"y":15,"v":8},{"x":12,"y":15,"v":2},{"x":13,"y":15,"v":2},{"x":14,"y":15,"v":2},{"x":15,"y":15,"v":2},{"x":16,"y":15,"v":2},{"x":17,"y":15,"v":3},{"x":18,"y":15,"v":7},{"x":19,"y":15,"v":20},{"x":20,"y":15,"v":21},{"x":21,"y":15,"v":21},{"x":22,"y":15,"v":19},{"x":23,"y":15,"v":24},{"x":24,"y":15,"v":24},
{"x":0,"y":16,"v":62},{"x":1,"y":16,"v":50},{"x":2,"y":16,"v":38},{"x":3,"y":16,"v":42},{"x":4,"y":16,"v":16},{"x":5,"y":16,"v":11},{"x":6,"y":16,"v":6},{"x":7,"y":16,"v":7},{"x":8,"y":16,"v":15},{"x":9,"y":16,"v":12},{"x":10,"y":16,"v":7},{"x":11,"y":16,"v":8},{"x":12,"y":16,"v":2},{"x":13,"y":16,"v":2},{"x":14,"y":16,"v":2},{"x":15,"y":16,"v":2},{"x":16,"y":16,"v":2},{"x":17,"y":16,"v":3},{"x":18,"y":16,"v":7},{"x":19,"y":16,"v":20},{"x":20,"y":16,"v":21},{"x":21,"y":16,"v":21},{"x":22,"y":16,"v":19},{"x":23,"y":16,"v":24},{"x":24,"y":16,"v":24},
{"x":0,"y":17,"v":68},{"x":1,"y":17,"v":56},{"x":2,"y":17,"v":44},{"x":3,"y":17,"v":44},{"x":4,"y":17,"v":19},{"x":5,"y":17,"v":13},{"x":6,"y":17,"v":7},{"x":7,"y":17,"v":7},{"x":8,"y":17,"v":16},{"x":9,"y":17,"v":16},{"x":10,"y":17,"v":8},{"x":11,"y":17,"v":9},{"x":12,"y":17,"v":3},{"x":13,"y":17,"v":2},{"x":14,"y":17,"v":2},{"x":15,"y":17,"v":1},{"x":16,"y":17,"v":3},{"x":17,"y":17,"v":2},{"x":18,"y":17,"v":7},{"x":19,"y":17,"v":24},{"x":20,"y":17,"v":24},{"x":21,"y":17,"v":21},{"x":22,"y":17,"v":21},{"x":23,"y":17,"v":22},{"x":24,"y":17,"v":22},
{"x":0,"y":18,"v":72},{"x":1,"y":18,"v":58},{"x":2,"y":18,"v":50},{"x":3,"y":18,"v":50},{"x":4,"y":18,"v":20},{"x":5,"y":18,"v":14},{"x":6,"y":18,"v":8},{"x":7,"y":18,"v":9},{"x":8,"y":18,"v":11},{"x":9,"y":18,"v":11},{"x":10,"y":18,"v":8},{"x":11,"y":18,"v":8},{"x":12,"y":18,"v":5},{"x":13,"y":18,"v":5},{"x":14,"y":18,"v":5},{"x":15,"y":18,"v":5},{"x":16,"y":18,"v":3},{"x":17,"y":18,"v":5},{"x":18,"y":18,"v":2},{"x":19,"y":18,"v":9},{"x":20,"y":18,"v":9},{"x":21,"y":18,"v":9},{"x":22,"y":18,"v":17},{"x":23,"y":18,"v":24},{"x":24,"y":18,"v":20},
{"x":0,"y":19,"v":72},{"x":1,"y":19,"v":58},{"x":2,"y":19,"v":50},{"x":3,"y":19,"v":50},{"x":4,"y":19,"v":21},{"x":5,"y":19,"v":14},{"x":6,"y":19,"v":8},{"x":7,"y":19,"v":8},{"x":8,"y":19,"v":9},{"x":9,"y":19,"v":9},{"x":10,"y":19,"v":9},{"x":11,"y":19,"v":8},{"x":12,"y":19,"v":7},{"x":13,"y":19,"v":7},{"x":14,"y":19,"v":8},{"x":15,"y":19,"v":7},{"x":16,"y":19,"v":3},{"x":17,"y":19,"v":9},{"x":18,"y":19,"v":1},{"x":19,"y":19,"v":6},{"x":20,"y":19,"v":6},{"x":21,"y":19,"v":7},{"x":22,"y":19,"v":18},{"x":23,"y":19,"v":27},{"x":24,"y":19,"v":24},
{"x":0,"y":20,"v":76},{"x":1,"y":20,"v":62},{"x":2,"y":20,"v":54},{"x":3,"y":20,"v":52},{"x":4,"y":20,"v":22},{"x":5,"y":20,"v":16},{"x":6,"y":20,"v":8},{"x":7,"y":20,"v":8},{"x":8,"y":20,"v":11},{"x":9,"y":20,"v":10},{"x":10,"y":20,"v":10},{"x":11,"y":20,"v":8},{"x":12,"y":20,"v":7},{"x":13,"y":20,"v":7},{"x":14,"y":20,"v":7},{"x":15,"y":20,"v":8},{"x":16,"y":20,"v":3},{"x":17,"y":20,"v":5},{"x":18,"y":20,"v":3},{"x":19,"y":20,"v":12},{"x":20,"y":20,"v":9},{"x":21,"y":20,"v":7},{"x":22,"y":20,"v":13},{"x":23,"y":20,"v":16},{"x":24,"y":20,"v":16},
{"x":0,"y":21,"v":80},{"x":1,"y":21,"v":66},{"x":2,"y":21,"v":56},{"x":3,"y":21,"v":54},{"x":4,"y":21,"v":24},{"x":5,"y":21,"v":18},{"x":6,"y":21,"v":8},{"x":7,"y":21,"v":10},{"x":8,"y":21,"v":15},{"x":9,"y":21,"v":12},{"x":10,"y":21,"v":11},{"x":11,"y":21,"v":11},{"x":12,"y":21,"v":7},{"x":13,"y":21,"v":7},{"x":14,"y":21,"v":7},{"x":15,"y":21,"v":7},{"x":16,"y":21,"v":3},{"x":17,"y":21,"v":2},{"x":18,"y":21,"v":6},{"x":19,"y":21,"v":18},{"x":20,"y":21,"v":13},{"x":21,"y":21,"v":7},{"x":22,"y":21,"v":10},{"x":23,"y":21,"v":13},{"x":24,"y":21,"v":13},
{"x":0,"y":22,"v":86},{"x":1,"y":22,"v":70},{"x":2,"y":22,"v":60},{"x":3,"y":22,"v":56},{"x":4,"y":22,"v":28},{"x":5,"y":22,"v":20},{"x":6,"y":22,"v":10},{"x":7,"y":22,"v":10},{"x":8,"y":22,"v":20},{"x":9,"y":22,"v":15},{"x":10,"y":22,"v":14},{"x":11,"y":22,"v":14},{"x":12,"y":22,"v":8},{"x":13,"y":22,"v":7},{"x":14,"y":22,"v":7},{"x":15,"y":22,"v":7},{"x":16,"y":22,"v":7},{"x":17,"y":22,"v":2},{"x":18,"y":22,"v":8},{"x":19,"y":22,"v":22},{"x":20,"y":22,"v":18},{"x":21,"y":22,"v":8},{"x":22,"y":22,"v":8},{"x":23,"y":22,"v":9},{"x":24,"y":22,"v":9},
{"x":0,"y":23,"v":90},{"x":1,"y":23,"v":76},{"x":2,"y":23,"v":66},{"x":3,"y":23,"v":62},{"x":4,"y":23,"v":32},{"x":5,"y":23,"v":24},{"x":6,"y":23,"v":12},{"x":7,"y":23,"v":13},{"x":8,"y":23,"v":26},{"x":9,"y":23,"v":20},{"x":10,"y":23,"v":18},{"x":11,"y":23,"v":18},{"x":12,"y":23,"v":9},{"x":13,"y":23,"v":8},{"x":14,"y":23,"v":8},{"x":15,"y":23,"v":7},{"x":16,"y":23,"v":11},{"x":17,"y":23,"v":3},{"x":18,"y":23,"v":12},{"x":19,"y":23,"v":30},{"x":20,"y":23,"v":27},{"x":21,"y":23,"v":8},{"x":22,"y":23,"v":8},{"x":23,"y":23,"v":9},{"x":24,"y":23,"v":9},
{"x":0,"y":24,"v":94},{"x":1,"y":24,"v":80},{"x":2,"y":24,"v":68},{"x":3,"y":24,"v":64},{"x":4,"y":24,"v":36},{"x":5,"y":24,"v":26},{"x":6,"y":24,"v":14},{"x":7,"y":24,"v":15},{"x":8,"y":24,"v":24},{"x":9,"y":24,"v":23},{"x":10,"y":24,"v":18},{"x":11,"y":24,"v":18},{"x":12,"y":24,"v":9},{"x":13,"y":24,"v":8},{"x":14,"y":24,"v":8},{"x":15,"y":24,"v":8},{"x":16,"y":24,"v":10},{"x":17,"y":24,"v":3},{"x":18,"y":24,"v":8},{"x":19,"y":24,"v":22},{"x":20,"y":24,"v":21},{"x":21,"y":24,"v":9},{"x":22,"y":24,"v":9},{"x":23,"y":24,"v":9},{"x":24,"y":24,"v":9}],
"cc":[
{"x":0,"y":0,"v":1},{"x":1,"y":0,"v":11},{"x":2,"y":0,"v":0},{"x":3,"y":0,"v":0},{"x":4,"y":0,"v":0},{"x":5,"y":0,"v":4},{"x":6,"y":0,"v":12},{"x":7,"y":0,"v":16},{"x":8,"y":0,"v":21},{"x":9,"y":0,"v":24},{"x":10,"y":0,"v":26},{"x":11,"y":0,"v":32},{"x":12,"y":0,"v":38},{"x":13,"y":0,"v":52},{"x":14,"y":0,"v":63},{"x":15,"y":0,"v":76},{"x":16,"y":0,"v":84},{"x":17,"y":0,"v":89},{"x":18,"y":0,"v":92},{"x":19,"y":0,"v":92},{"x":20,"y":0,"v":95},{"x":21,"y":0,"v":97},{"x":22,"y":0,"v":98},{"x":23,"y":0,"v":99},{"x":24,"y":0,"v":100},
{"x":0,"y":1,"v":4},{"x":1,"y":1,"v":2},{"x":2,"y":1,"v":6},{"x":3,"y":1,"v":7},{"x":4,"y":1,"v":5},{"x":5,"y":1,"v":0},{"x":6,"y":1,"v":6},{"x":7,"y":1,"v":10},{"x":8,"y":1,"v":13},{"x":9,"y":1,"v":14},{"x":10,"y":1,"v":15},{"x":11,"y":1,"v":20},{"x":12,"y":1,"v":28},{"x":13,"y":1,"v":38},{"x":14,"y":1,"v":44},{"x":15,"y":1,"v":59},{"x":16,"y":1,"v":66},{"x":17,"y":1,"v":70},{"x":18,"y":1,"v":74},{"x":19,"y":1,"v":74},{"x":20,"y":1,"v":78},{"x":21,"y":1,"v":79},{"x":22,"y":1,"v":80},{"x":23,"y":1,"v":80},{"x":24,"y":1,"v":80},
{"x":0,"y":2,"v":1},{"x":1,"y":2,"v":5},{"x":2,"y":2,"v":4},{"x":3,"y":2,"v":4},{"x":4,"y":2,"v":4},{"x":5,"y":2,"v":2},{"x":6,"y":2,"v":10},{"x":7,"y":2,"v":10},{"x":8,"y":2,"v":14},{"x":9,"y":2,"v":14},{"x":10,"y":2,"v":15},{"x":11,"y":2,"v":22},{"x":12,"y":2,"v":28},{"x":13,"y":2,"v":38},{"x":14,"y":2,"v":44},{"x":15,"y":2,"v":62},{"x":16,"y":2,"v":68},{"x":17,"y":2,"v":72},{"x":18,"y":2,"v":75},{"x":19,"y":2,"v":75},{"x":20,"y":2,"v":79},{"x":21,"y":2,"v":80},{"x":22,"y":2,"v":80},{"x":23,"y":2,"v":81},{"x":24,"y":2,"v":79},
{"x":0,"y":3,"v":1},{"x":1,"y":3,"v":4},{"x":2,"y":3,"v":4},{"x":3,"y":3,"v":4},{"x":4,"y":3,"v":4},{"x":5,"y":3,"v":4},{"x":6,"y":3,"v":10},{"x":7,"y":3,"v":13},{"x":8,"y":3,"v":15},{"x":9,"y":3,"v":15},{"x":10,"y":3,"v":15},{"x":11,"y":3,"v":22},{"x":12,"y":3,"v":29},{"x":13,"y":3,"v":40},{"x":14,"y":3,"v":47},{"x":15,"y":3,"v":64},{"x":16,"y":3,"v":70},{"x":17,"y":3,"v":74},{"x":18,"y":3,"v":77},{"x":19,"y":3,"v":74},{"x":20,"y":3,"v":79},{"x":21,"y":3,"v":80},{"x":22,"y":3,"v":81},{"x":23,"y":3,"v":81},{"x":24,"y":3,"v":81},
{"x":0,"y":4,"v":1},{"x":1,"y":4,"v":5},{"x":2,"y":4,"v":5},{"x":3,"y":4,"v":5},{"x":4,"y":4,"v":4},{"x":5,"y":4,"v":4},{"x":6,"y":4,"v":10},{"x":7,"y":4,"v":13},{"x":8,"y":4,"v":17},{"x":9,"y":4,"v":17},{"x":10,"y":4,"v":17},{"x":11,"y":4,"v":23},{"x":12,"y":4,"v":31},{"x":13,"y":4,"v":41},{"x":14,"y":4,"v":50},{"x":15,"y":4,"v":66},{"x":16,"y":4,"v":72},{"x":17,"y":4,"v":76},{"x":18,"y":4,"v":79},{"x":19,"y":4,"v":76},{"x":20,"y":4,"v":80},{"x":21,"y":4,"v":83},{"x":22,"y":4,"v":83},{"x":23,"y":4,"v":84},{"x":24,"y":4,"v":80},
{"x":0,"y":5,"v":3},{"x":1,"y":5,"v":2},{"x":2,"y":5,"v":7},{"x":3,"y":5,"v":8},{"x":4,"y":5,"v":6},{"x":5,"y":5,"v":5},{"x":6,"y":5,"v":8},{"x":7,"y":5,"v":9},{"x":8,"y":5,"v":12},{"x":9,"y":5,"v":12},{"x":10,"y":5,"v":13},{"x":11,"y":5,"v":19},{"x":12,"y":5,"v":25},{"x":13,"y":5,"v":37},{"x":14,"y":5,"v":47},{"x":15,"y":5,"v":59},{"x":16,"y":5,"v":66},{"x":17,"y":5,"v":71},{"x":18,"y":5,"v":71},{"x":19,"y":5,"v":71},{"x":20,"y":5,"v":74},{"x":21,"y":5,"v":77},{"x":22,"y":5,"v":78},{"x":23,"y":5,"v":78},{"x":24,"y":5,"v":78},
{"x":0,"y":6,"v":16},{"x":1,"y":6,"v":9},{"x":2,"y":6,"v":19},{"x":3,"y":6,"v":20},{"x":4,"y":6,"v":18},{"x":5,"y":6,"v":10},{"x":6,"y":6,"v":4},{"x":7,"y":6,"v":6},{"x":8,"y":6,"v":8},{"x":9,"y":6,"v":13},{"x":10,"y":6,"v":15},{"x":11,"y":6,"v":10},{"x":12,"y":6,"v":9},{"x":13,"y":6,"v":14},{"x":14,"y":6,"v":18},{"x":15,"y":6,"v":28},{"x":16,"y":6,"v":30},{"x":17,"y":6,"v":34},{"x":18,"y":6,"v":35},{"x":19,"y":6,"v":35},{"x":20,"y":6,"v":37},{"x":21,"y":6,"v":38},{"x":22,"y":6,"v":39},{"x":23,"y":6,"v":39},{"x":24,"y":6,"v":39},
{"x":0,"y":7,"v":19},{"x":1,"y":7,"v":9},{"x":2,"y":7,"v":14},{"x":3,"y":7,"v":20},{"x":4,"y":7,"v":23},{"x":5,"y":7,"v":10},{"x":6,"y":7,"v":4},{"x":7,"y":7,"v":5},{"x":8,"y":7,"v":5},{"x":9,"y":7,"v":5},{"x":10,"y":7,"v":5},{"x":11,"y":7,"v":6},{"x":12,"y":7,"v":8},{"x":13,"y":7,"v":22},{"x":14,"y":7,"v":26},{"x":15,"y":7,"v":32},{"x":16,"y":7,"v":35},{"x":17,"y":7,"v":36},{"x":18,"y":7,"v":37},{"x":19,"y":7,"v":37},{"x":20,"y":7,"v":38},{"x":21,"y":7,"v":39},{"x":22,"y":7,"v":40},{"x":23,"y":7,"v":40},{"x":24,"y":7,"v":40},
{"x":0,"y":8,"v":24},{"x":1,"y":8,"v":9},{"x":2,"y":8,"v":14},{"x":3,"y":8,"v":21},{"x":4,"y":8,"v":26},{"x":5,"y":8,"v":11},{"x":6,"y":8,"v":4},{"x":7,"y":8,"v":4},{"x":8,"y":8,"v":4},{"x":9,"y":8,"v":4},{"x":10,"y":8,"v":4},{"x":11,"y":8,"v":5},{"x":12,"y":8,"v":7},{"x":13,"y":8,"v":21},{"x":14,"y":8,"v":28},{"x":15,"y":8,"v":38},{"x":16,"y":8,"v":40},{"x":17,"y":8,"v":42},{"x":18,"y":8,"v":43},{"x":19,"y":8,"v":41},{"x":20,"y":8,"v":42},{"x":21,"y":8,"v":42},{"x":22,"y":8,"v":42},{"x":23,"y":8,"v":42},{"x":24,"y":8,"v":40},
{"x":0,"y":9,"v":24},{"x":1,"y":9,"v":10},{"x":2,"y":9,"v":12},{"x":3,"y":9,"v":16},{"x":4,"y":9,"v":20},{"x":5,"y":9,"v":13},{"x":6,"y":9,"v":5},{"x":7,"y":9,"v":5},{"x":8,"y":9,"v":5},{"x":9,"y":9,"v":4},{"x":10,"y":9,"v":4},{"x":11,"y":9,"v":11},{"x":12,"y":9,"v":10},{"x":13,"y":9,"v":25},{"x":14,"y":9,"v":32},{"x":15,"y":9,"v":44},{"x":16,"y":9,"v":47},{"x":17,"y":9,"v":50},{"x":18,"y":9,"v":50},{"x":19,"y":9,"v":42},{"x":20,"y":9,"v":46},{"x":21,"y":9,"v":46},{"x":22,"y":9,"v":44},{"x":23,"y":9,"v":42},{"x":24,"y":9,"v":41},
{"x":0,"y":10,"v":26},{"x":1,"y":10,"v":10},{"x":2,"y":10,"v":12},{"x":3,"y":10,"v":16},{"x":4,"y":10,"v":20},{"x":5,"y":10,"v":13},{"x":6,"y":10,"v":5},{"x":7,"y":10,"v":4},{"x":8,"y":10,"v":4},{"x":9,"y":10,"v":4},{"x":10,"y":10,"v":4},{"x":11,"y":10,"v":9},{"x":12,"y":10,"v":10},{"x":13,"y":10,"v":25},{"x":14,"y":10,"v":33},{"x":15,"y":10,"v":44},{"x":16,"y":10,"v":50},{"x":17,"y":10,"v":52},{"x":18,"y":10,"v":52},{"x":19,"y":10,"v":42},{"x":20,"y":10,"v":46},{"x":21,"y":10,"v":46},{"x":22,"y":10,"v":44},{"x":23,"y":10,"v":43},{"x":24,"y":10,"v":41},
{"x":0,"y":11,"v":34},{"x":1,"y":11,"v":14},{"x":2,"y":11,"v":26},{"x":3,"y":11,"v":26},{"x":4,"y":11,"v":30},{"x":5,"y":11,"v":20},{"x":6,"y":11,"v":6},{"x":7,"y":11,"v":6},{"x":8,"y":11,"v":6},{"x":9,"y":11,"v":8},{"x":10,"y":11,"v":9},{"x":11,"y":11,"v":3},{"x":12,"y":11,"v":3},{"x":13,"y":11,"v":13},{"x":14,"y":11,"v":17},{"x":15,"y":11,"v":24},{"x":16,"y":11,"v":27},{"x":17,"y":11,"v":29},{"x":18,"y":11,"v":29},{"x":19,"y":11,"v":29},{"x":20,"y":11,"v":29},{"x":21,"y":11,"v":30},{"x":22,"y":11,"v":30},{"x":23,"y":11,"v":32},{"x":24,"y":11,"v":33},
{"x":0,"y":12,"v":42},{"x":1,"y":12,"v":20},{"x":2,"y":12,"v":30},{"x":3,"y":12,"v":34},{"x":4,"y":12,"v":34},{"x":5,"y":12,"v":30},{"x":6,"y":12,"v":9},{"x":7,"y":12,"v":10},{"x":8,"y":12,"v":10},{"x":9,"y":12,"v":15},{"x":10,"y":12,"v":16},{"x":11,"y":12,"v":3},{"x":12,"y":12,"v":2},{"x":13,"y":12,"v":7},{"x":14,"y":12,"v":14},{"x":15,"y":12,"v":20},{"x":16,"y":12,"v":22},{"x":17,"y":12,"v":22},{"x":18,"y":12,"v":22},{"x":19,"y":12,"v":24},{"x":20,"y":12,"v":25},{"x":21,"y":12,"v":25},{"x":22,"y":12,"v":27},{"x":23,"y":12,"v":28},{"x":24,"y":12,"v":33},
{"x":0,"y":13,"v":52},{"x":1,"y":13,"v":28},{"x":2,"y":13,"v":38},{"x":3,"y":13,"v":42},{"x":4,"y":13,"v":44},{"x":5,"y":13,"v":34},{"x":6,"y":13,"v":22},{"x":7,"y":13,"v":20},{"x":8,"y":13,"v":20},{"x":9,"y":13,"v":24},{"x":10,"y":13,"v":26},{"x":11,"y":13,"v":8},{"x":12,"y":13,"v":5},{"x":13,"y":13,"v":4},{"x":14,"y":13,"v":9},{"x":15,"y":13,"v":10},{"x":16,"y":13,"v":10},{"x":17,"y":13,"v":10},{"x":18,"y":13,"v":10},{"x":19,"y":13,"v":19},{"x":20,"y":13,"v":20},{"x":21,"y":13,"v":24},{"x":22,"y":13,"v":28},{"x":23,"y":13,"v":34},{"x":24,"y":13,"v":38},
{"x":0,"y":14,"v":60},{"x":1,"y":14,"v":36},{"x":2,"y":14,"v":44},{"x":3,"y":14,"v":50},{"x":4,"y":14,"v":56},{"x":5,"y":14,"v":44},{"x":6,"y":14,"v":27},{"x":7,"y":14,"v":28},{"x":8,"y":14,"v":30},{"x":9,"y":14,"v":33},{"x":10,"y":14,"v":36},{"x":11,"y":14,"v":15},{"x":12,"y":14,"v":9},{"x":13,"y":14,"v":4},{"x":14,"y":14,"v":4},{"x":15,"y":14,"v":4},{"x":16,"y":14,"v":4},{"x":17,"y":14,"v":7},{"x":18,"y":14,"v":9},{"x":19,"y":14,"v":24},{"x":20,"y":14,"v":24},{"x":21,"y":14,"v":26},{"x":22,"y":14,"v":33},{"x":23,"y":14,"v":36},{"x":24,"y":14,"v":44},
{"x":0,"y":15,"v":68},{"x":1,"y":15,"v":42},{"x":2,"y":15,"v":50},{"x":3,"y":15,"v":58},{"x":4,"y":15,"v":62},{"x":5,"y":15,"v":52},{"x":6,"y":15,"v":36},{"x":7,"y":15,"v":38},{"x":8,"y":15,"v":40},{"x":9,"y":15,"v":42},{"x":10,"y":15,"v":44},{"x":11,"y":15,"v":19},{"x":12,"y":15,"v":11},{"x":13,"y":15,"v":4},{"x":14,"y":15,"v":4},{"x":15,"y":15,"v":4},{"x":16,"y":15,"v":4},{"x":17,"y":15,"v":5},{"x":18,"y":15,"v":8},{"x":19,"y":15,"v":26},{"x":20,"y":15,"v":26},{"x":21,"y":15,"v":30},{"x":22,"y":15,"v":36},{"x":23,"y":15,"v":40},{"x":24,"y":15,"v":48},
{"x":0,"y":16,"v":74},{"x":1,"y":16,"v":50},{"x":2,"y":16,"v":56},{"x":3,"y":16,"v":62},{"x":4,"y":16,"v":68},{"x":5,"y":16,"v":58},{"x":6,"y":16,"v":42},{"x":7,"y":16,"v":42},{"x":8,"y":16,"v":44},{"x":9,"y":16,"v":47},{"x":10,"y":16,"v":47},{"x":11,"y":16,"v":24},{"x":12,"y":16,"v":18},{"x":13,"y":16,"v":4},{"x":14,"y":16,"v":4},{"x":15,"y":16,"v":4},{"x":16,"y":16,"v":4},{"x":17,"y":16,"v":8},{"x":18,"y":16,"v":10},{"x":19,"y":16,"v":26},{"x":20,"y":16,"v":25},{"x":21,"y":16,"v":28},{"x":22,"y":16,"v":38},{"x":23,"y":16,"v":40},{"x":24,"y":16,"v":52},
{"x":0,"y":17,"v":83},{"x":1,"y":17,"v":54},{"x":2,"y":17,"v":58},{"x":3,"y":17,"v":66},{"x":4,"y":17,"v":70},{"x":5,"y":17,"v":64},{"x":6,"y":17,"v":44},{"x":7,"y":17,"v":44},{"x":8,"y":17,"v":46},{"x":9,"y":17,"v":46},{"x":10,"y":17,"v":50},{"x":11,"y":17,"v":26},{"x":12,"y":17,"v":17},{"x":13,"y":17,"v":7},{"x":14,"y":17,"v":8},{"x":15,"y":17,"v":8},{"x":16,"y":17,"v":5},{"x":17,"y":17,"v":3},{"x":18,"y":17,"v":2},{"x":19,"y":17,"v":12},{"x":20,"y":17,"v":13},{"x":21,"y":17,"v":14},{"x":22,"y":17,"v":20},{"x":23,"y":17,"v":20},{"x":24,"y":17,"v":34},
{"x":0,"y":18,"v":88},{"x":1,"y":18,"v":56},{"x":2,"y":18,"v":60},{"x":3,"y":18,"v":68},{"x":4,"y":18,"v":73},{"x":5,"y":18,"v":68},{"x":6,"y":18,"v":46},{"x":7,"y":18,"v":46},{"x":8,"y":18,"v":47},{"x":9,"y":18,"v":48},{"x":10,"y":18,"v":50},{"x":11,"y":18,"v":28},{"x":12,"y":18,"v":18},{"x":13,"y":18,"v":7},{"x":14,"y":18,"v":9},{"x":15,"y":18,"v":13},{"x":16,"y":18,"v":5},{"x":17,"y":18,"v":2},{"x":18,"y":18,"v":1},{"x":19,"y":18,"v":14},{"x":20,"y":18,"v":14},{"x":21,"y":18,"v":15},{"x":22,"y":18,"v":26},{"x":23,"y":18,"v":26},{"x":24,"y":18,"v":36},
{"x":0,"y":19,"v":90},{"x":1,"y":19,"v":56},{"x":2,"y":19,"v":60},{"x":3,"y":19,"v":66},{"x":4,"y":19,"v":68},{"x":5,"y":19,"v":68},{"x":6,"y":19,"v":47},{"x":7,"y":19,"v":47},{"x":8,"y":19,"v":48},{"x":9,"y":19,"v":50},{"x":10,"y":19,"v":50},{"x":11,"y":19,"v":28},{"x":12,"y":19,"v":16},{"x":13,"y":19,"v":18},{"x":14,"y":19,"v":19},{"x":15,"y":19,"v":22},{"x":16,"y":19,"v":16},{"x":17,"y":19,"v":7},{"x":18,"y":19,"v":6},{"x":19,"y":19,"v":6},{"x":20,"y":19,"v":6},{"x":21,"y":19,"v":6},{"x":22,"y":19,"v":6},{"x":23,"y":19,"v":6},{"x":24,"y":19,"v":10},
{"x":0,"y":20,"v":94},{"x":1,"y":20,"v":60},{"x":2,"y":20,"v":65},{"x":3,"y":20,"v":70},{"x":4,"y":20,"v":72},{"x":5,"y":20,"v":70},{"x":6,"y":20,"v":48},{"x":7,"y":20,"v":48},{"x":8,"y":20,"v":49},{"x":9,"y":20,"v":51},{"x":10,"y":20,"v":51},{"x":11,"y":20,"v":28},{"x":12,"y":20,"v":17},{"x":13,"y":20,"v":19},{"x":14,"y":20,"v":18},{"x":15,"y":20,"v":24},{"x":16,"y":20,"v":17},{"x":17,"y":20,"v":8},{"x":18,"y":20,"v":6},{"x":19,"y":20,"v":15},{"x":20,"y":20,"v":4},{"x":21,"y":20,"v":4},{"x":22,"y":20,"v":12},{"x":23,"y":20,"v":12},{"x":24,"y":20,"v":22},
{"x":0,"y":21,"v":97},{"x":1,"y":21,"v":62},{"x":2,"y":21,"v":66},{"x":3,"y":21,"v":72},{"x":4,"y":21,"v":74},{"x":5,"y":21,"v":74},{"x":6,"y":21,"v":50},{"x":7,"y":21,"v":50},{"x":8,"y":21,"v":50},{"x":9,"y":21,"v":50},{"x":10,"y":21,"v":52},{"x":11,"y":21,"v":31},{"x":12,"y":21,"v":20},{"x":13,"y":21,"v":21},{"x":14,"y":21,"v":21},{"x":15,"y":21,"v":26},{"x":16,"y":21,"v":18},{"x":17,"y":21,"v":8},{"x":18,"y":21,"v":8},{"x":19,"y":21,"v":14},{"x":20,"y":21,"v":4},{"x":21,"y":21,"v":4},{"x":22,"y":21,"v":6},{"x":23,"y":21,"v":12},{"x":24,"y":21,"v":20},
{"x":0,"y":22,"v":97},{"x":1,"y":22,"v":64},{"x":2,"y":22,"v":68},{"x":3,"y":22,"v":71},{"x":4,"y":22,"v":72},{"x":5,"y":22,"v":72},{"x":6,"y":22,"v":50},{"x":7,"y":22,"v":50},{"x":8,"y":22,"v":50},{"x":9,"y":22,"v":50},{"x":10,"y":22,"v":52},{"x":11,"y":22,"v":31},{"x":12,"y":22,"v":22},{"x":13,"y":22,"v":29},{"x":14,"y":22,"v":29},{"x":15,"y":22,"v":31},{"x":16,"y":22,"v":26},{"x":17,"y":22,"v":12},{"x":18,"y":22,"v":12},{"x":19,"y":22,"v":7},{"x":20,"y":22,"v":6},{"x":21,"y":22,"v":4},{"x":22,"y":22,"v":2},{"x":23,"y":22,"v":2},{"x":24,"y":22,"v":6},
{"x":0,"y":23,"v":100},{"x":1,"y":23,"v":66},{"x":2,"y":23,"v":70},{"x":3,"y":23,"v":74},{"x":4,"y":23,"v":76},{"x":5,"y":23,"v":75},{"x":6,"y":23,"v":50},{"x":7,"y":23,"v":50},{"x":8,"y":23,"v":50},{"x":9,"y":23,"v":50},{"x":10,"y":23,"v":52},{"x":11,"y":23,"v":31},{"x":12,"y":23,"v":24},{"x":13,"y":23,"v":25},{"x":14,"y":23,"v":31},{"x":15,"y":23,"v":33},{"x":16,"y":23,"v":28},{"x":17,"y":23,"v":14},{"x":18,"y":23,"v":14},{"x":19,"y":23,"v":12},{"x":20,"y":23,"v":7},{"x":21,"y":23,"v":4},{"x":22,"y":23,"v":6},{"x":23,"y":23,"v":4},{"x":24,"y":23,"v":14},
{"x":0,"y":24,"v":100},{"x":1,"y":24,"v":66},{"x":2,"y":24,"v":66},{"x":3,"y":24,"v":66},{"x":4,"y":24,"v":66},{"x":5,"y":24,"v":65},{"x":6,"y":24,"v":50},{"x":7,"y":24,"v":50},{"x":8,"y":24,"v":50},{"x":9,"y":24,"v":50},{"x":10,"y":24,"v":52},{"x":11,"y":24,"v":36},{"x":12,"y":24,"v":30},{"x":13,"y":24,"v":38},{"x":14,"y":24,"v":40},{"x":15,"y":24,"v":44},{"x":16,"y":24,"v":40},{"x":17,"y":24,"v":26},{"x":18,"y":24,"v":26},{"x":19,"y":24,"v":13},{"x":20,"y":24,"v":22},{"x":21,"y":24,"v":20},{"x":22,"y":24,"v":10},{"x":23,"y":24,"v":10},{"x":24,"y":24,"v":5}]
},
"hconcat":[
{"bounds":"flush","columns":2,"spacing":{"row":45,"column":0},"concat":[
{"width":220,"height":210,"data":{"values":[{"t":"Dist = 1.0864","x":27,"y":54}]},"mark":{"type":"text","font":"DejaVu Sans","fontSize":38,"align":"left","baseline":"middle","color":"#222"},"encoding":{"text":{"field":"t"},"x":{"field":"x","type":"quantitative","axis":null,"scale":{"domain":[0,660]}},"y":{"field":"y","type":"quantitative","axis":null,"scale":{"domain":[0,630]}}}},
{"width":985,"height":210,"data":{"name":"sa"},"mark":{"type":"line","color":"#1f77b4","strokeWidth":2.5,"point":{"color":"#1f77b4","size":40}},"encoding":{"x":{"field":"i","type":"ordinal","axis":null,"scale":{"domain":[0,1,2,3,4,5,6,7,8,9,10,11,12,13,14,15,16,17,18,19,20,21,22,23,24],"paddingInner":0,"paddingOuter":0}},"y":{"field":"v","type":"quantitative","axis":null,"scale":{"domain":[0,630]}}}},
{"width":220,"height":985,"data":{"name":"la"},"mark":{"type":"line","color":"#1f77b4","strokeWidth":2.5,"orient":"vertical","point":{"color":"#1f77b4","size":40}},"encoding":{"order":{"field":"i"},"y":{"field":"i","type":"ordinal","axis":null,"scale":{"domain":[0,1,2,3,4,5,6,7,8,9,10,11,12,13,14,15,16,17,18,19,20,21,22,23,24],"paddingInner":0,"paddingOuter":0}},"x":{"field":"v","type":"quantitative","axis":null,"scale":{"domain":[0,660]}}}},
{"width":985,"height":985,"view":{"stroke":"#222","strokeWidth":2},"title":{"text":"(a)","orient":"bottom","anchor":"start","frame":"group","font":"Liberation Serif","fontSize":42,"fontWeight":"normal","color":"#111","dx":362,"offset":30},"resolve":{"axis":{"x":"independent"}},"layer":[
{"data":{"name":"ca"},"mark":{"type":"rect","strokeWidth":1},"encoding":{"x":{"field":"x","type":"ordinal","axis":{"orient":"top","values":[0,5,10,15,20]},"scale":{"domain":[0,1,2,3,4,5,6,7,8,9,10,11,12,13,14,15,16,17,18,19,20,21,22,23,24],"paddingInner":0,"paddingOuter":0}},"y":{"field":"y","type":"ordinal","axis":{"orient":"left","values":[0,5,10,15,20]},"scale":{"domain":[0,1,2,3,4,5,6,7,8,9,10,11,12,13,14,15,16,17,18,19,20,21,22,23,24],"paddingInner":0,"paddingOuter":0}},"color":{"field":"v","type":"quantitative","legend":null,"scale":{"scheme":"viridis","domain":[0,100]}},"stroke":{"field":"v","type":"quantitative","legend":null,"scale":{"scheme":"viridis","domain":[0,100]}}}},
{"data":{"name":"pa"},"mark":{"type":"line","color":"#f00","strokeWidth":3,"point":{"color":"#f00","size":50}},"encoding":{"order":{"field":"k"},"x":{"field":"x","type":"ordinal","axis":{"orient":"bottom","labels":false,"values":[0,5,10,15,20]}},"y":{"field":"y","type":"ordinal"}}}
]}
]},
{"bounds":"flush","columns":2,"spacing":{"row":45,"column":0},"concat":[
{"width":220,"height":210,"data":{"values":[{"t":"Dist = 1.9292","x":-90,"y":52}]},"mark":{"type":"text","font":"DejaVu Sans","fontSize":34,"align":"left","baseline":"middle","color":"#222"},"encoding":{"text":{"field":"t"},"x":{"field":"x","type":"quantitative","axis":null,"scale":{"domain":[-90,570]}},"y":{"field":"y","type":"quantitative","axis":null,"scale":{"domain":[0,630]}}}},
{"width":985,"height":210,"data":{"name":"sb"},"mark":{"type":"line","color":"#1f77b4","strokeWidth":2.5,"point":{"color":"#1f77b4","size":40}},"encoding":{"x":{"field":"i","type":"ordinal","axis":null,"scale":{"domain":[0,1,2,3,4,5,6,7,8,9,10,11,12,13,14,15,16,17,18,19,20,21,22,23,24],"paddingInner":0,"paddingOuter":0}},"y":{"field":"v","type":"quantitative","axis":null,"scale":{"domain":[0,630]}}}},
{"width":220,"height":985,"data":{"name":"lb"},"mark":{"type":"line","color":"#1f77b4","strokeWidth":2.5,"orient":"vertical","point":{"color":"#1f77b4","size":40}},"encoding":{"order":{"field":"i"},"y":{"field":"i","type":"ordinal","axis":null,"scale":{"domain":[0,1,2,3,4,5,6,7,8,9,10,11,12,13,14,15,16,17,18,19,20,21,22,23,24],"paddingInner":0,"paddingOuter":0}},"x":{"field":"v","type":"quantitative","axis":null,"scale":{"domain":[-90,570]}}}},
{"width":985,"height":985,"view":{"stroke":"#222","strokeWidth":2},"title":{"text":"(b)","orient":"bottom","anchor":"start","frame":"group","font":"Liberation Serif","fontSize":42,"fontWeight":"normal","color":"#111","dx":360,"offset":30},"resolve":{"axis":{"x":"independent"}},"layer":[
{"data":{"name":"cb"},"mark":{"type":"rect","strokeWidth":1},"encoding":{"x":{"field":"x","type":"ordinal","axis":{"orient":"top","values":[0,5,10,15,20]},"scale":{"domain":[0,1,2,3,4,5,6,7,8,9,10,11,12,13,14,15,16,17,18,19,20,21,22,23,24],"paddingInner":0,"paddingOuter":0}},"y":{"field":"y","type":"ordinal","axis":{"orient":"left","values":[0,5,10,15,20]},"scale":{"domain":[0,1,2,3,4,5,6,7,8,9,10,11,12,13,14,15,16,17,18,19,20,21,22,23,24],"paddingInner":0,"paddingOuter":0}},"color":{"field":"v","type":"quantitative","legend":null,"scale":{"scheme":"viridis","domain":[0,100]}},"stroke":{"field":"v","type":"quantitative","legend":null,"scale":{"scheme":"viridis","domain":[0,100]}}}},
{"data":{"name":"pb"},"mark":{"type":"line","color":"#f00","strokeWidth":3,"point":{"color":"#f00","size":50}},"encoding":{"order":{"field":"k"},"x":{"field":"x","type":"ordinal","axis":{"orient":"bottom","labels":false,"values":[0,5,10,15,20]}},"y":{"field":"y","type":"ordinal"}}}
]}
]},
{"bounds":"flush","columns":2,"spacing":{"row":45,"column":0},"concat":[
{"width":253,"height":210,"data":{"values":[{"t":"Dist = 1.1754","x":-21,"y":64}]},"mark":{"type":"text","font":"DejaVu Sans","fontSize":36.5,"align":"left","baseline":"middle","color":"#222"},"encoding":{"text":{"field":"t"},"x":{"field":"x","type":"quantitative","axis":null,"scale":{"domain":[-63,696]}},"y":{"field":"y","type":"quantitative","axis":null,"scale":{"domain":[0,630]}}}},
{"width":985,"height":210,"data":{"name":"sc"},"mark":{"type":"line","color":"#1f77b4","strokeWidth":2.5,"point":{"color":"#1f77b4","size":40}},"encoding":{"x":{"field":"i","type":"ordinal","axis":null,"scale":{"domain":[0,1,2,3,4,5,6,7,8,9,10,11,12,13,14,15,16,17,18,19,20,21,22,23,24],"paddingInner":0,"paddingOuter":0}},"y":{"field":"v","type":"quantitative","axis":null,"scale":{"domain":[0,630]}}}},
{"width":253,"height":985,"data":{"name":"lc"},"mark":{"type":"line","color":"#1f77b4","strokeWidth":2.5,"orient":"vertical","point":{"color":"#1f77b4","size":40}},"encoding":{"order":{"field":"i"},"y":{"field":"i","type":"ordinal","axis":null,"scale":{"domain":[0,1,2,3,4,5,6,7,8,9,10,11,12,13,14,15,16,17,18,19,20,21,22,23,24],"paddingInner":0,"paddingOuter":0}},"x":{"field":"v","type":"quantitative","axis":null,"scale":{"domain":[-63,696]}}}},
{"width":985,"height":985,"view":{"stroke":"#222","strokeWidth":2},"title":{"text":"(c)","orient":"bottom","anchor":"start","frame":"group","font":"Liberation Serif","fontSize":42,"fontWeight":"normal","color":"#111","dx":300,"offset":30},"resolve":{"axis":{"x":"independent"}},"layer":[
{"data":{"name":"cc"},"mark":{"type":"rect","strokeWidth":1},"encoding":{"x":{"field":"x","type":"ordinal","axis":{"orient":"top","values":[0,5,10,15,20]},"scale":{"domain":[0,1,2,3,4,5,6,7,8,9,10,11,12,13,14,15,16,17,18,19,20,21,22,23,24],"paddingInner":0,"paddingOuter":0}},"y":{"field":"y","type":"ordinal","axis":{"orient":"left","values":[0,5,10,15,20]},"scale":{"domain":[0,1,2,3,4,5,6,7,8,9,10,11,12,13,14,15,16,17,18,19,20,21,22,23,24],"paddingInner":0,"paddingOuter":0}},"color":{"field":"v","type":"quantitative","legend":null,"scale":{"scheme":"viridis","domain":[0,100]}},"stroke":{"field":"v","type":"quantitative","legend":null,"scale":{"scheme":"viridis","domain":[0,100]}}}},
{"data":{"name":"pc"},"mark":{"type":"line","color":"#f00","strokeWidth":3,"point":{"color":"#f00","size":50}},"encoding":{"order":{"field":"k"},"x":{"field":"x","type":"ordinal","axis":{"orient":"bottom","labels":false,"values":[0,5,10,15,20]}},"y":{"field":"y","type":"ordinal"}}}
]}
]}
]}
